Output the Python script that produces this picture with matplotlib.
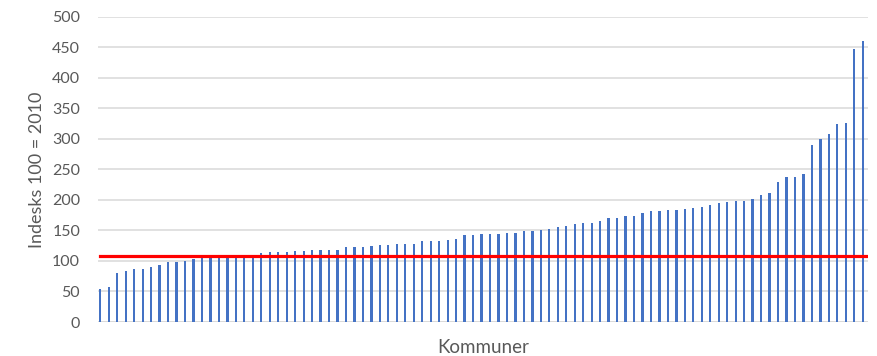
import numpy as np
import matplotlib.pyplot as plt

plt.rcParams['font.family'] = ['Lato', 'DejaVu Sans']

# indeks per kommune (2010 = 100), sortert stigende
indeks = [
    53.5, 57, 81, 83.6, 86.6, 87.4, 90.7, 94, 99, 99, 100.5, 102.7, 105.5,
    106, 107, 107, 107, 108, 108, 113, 115, 115, 115, 116, 116,
    118, 118, 118, 118, 123, 123, 123, 124.6, 126.8, 126.8, 127.9, 127.9, 127.9,
    132.8, 132.8, 132.8, 134.4, 136, 142, 142, 143.7, 143.7, 143.7, 145.9, 145.9,
    148.6, 148.6, 150.3, 153, 155.2, 156.8, 160, 161.7, 161.7, 165, 171, 171,
    174.3, 174.3, 179, 182.5, 182.5, 184, 184, 185.8, 187.4, 189, 192.3, 195.6, 197.3,
    198, 199, 200.8, 207.9, 210.6, 229.7, 238.4, 238.4, 242.8, 290.8, 299.5,
    308.2, 324.6, 326.2, 448, 461,
]
landet = 108.6  # hele landet
y_ticks = [0, 50, 100, 150, 200, 250, 300, 350, 400, 450, 500]

fig = plt.figure(figsize=(8.77, 3.56), dpi=100)
ax = fig.add_axes([0.112, 0.0955, 0.878, 0.857])

x = np.arange(len(indeks))
ax.bar(x, indeks, width=0.27, color='#4472C4', zorder=2)
ax.plot([0, len(indeks) - 0.35], [landet, landet], color='#FF0000', lw=2.3, zorder=3)

ax.set_xlim(-0.25, len(indeks) - 0.35)
ax.set_ylim(0, 500)
ax.set_yticks(y_ticks)
ax.set_xticks([])
ax.yaxis.grid(True, color='#D9D9D9', lw=1.1, zorder=0)
for s in ax.spines.values():
    s.set_visible(False)
ax.axhline(0, color='#D9D9D9', lw=1.1, zorder=1)
ax.tick_params(axis='y', length=0, pad=13, labelsize=11.5, labelcolor='#595959')

ax.set_ylabel('Indesks 100 = 2010', fontsize=13, color='#595959', labelpad=5)
ax.set_xlabel('Kommuner', fontsize=13.5, color='#595959', labelpad=12)

fig.savefig('out.png', dpi=100, facecolor='white')
